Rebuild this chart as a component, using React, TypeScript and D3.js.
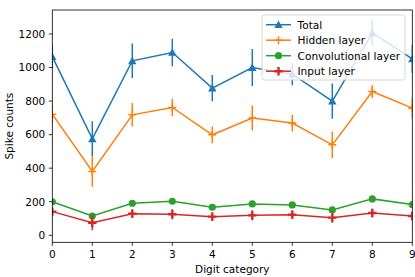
import React from 'react';
import * as d3 from 'd3';

const digits = [0, 1, 2, 3, 4, 5, 6, 7, 8, 9];

const totalMean = [1065, 575, 1040, 1090, 877, 1000, 960, 800, 1206, 1051];
const totalErr = [70, 105, 103, 82, 78, 110, 65, 105, 75, 83];
const hiddenMean = [722, 380, 718, 762, 599, 699, 669, 539, 857, 758];
const hiddenErr = [55, 90, 70, 52, 50, 75, 50, 78, 38, 60];
const convMean = [200, 115, 191, 203, 167, 187, 181, 151, 217, 183];
const convErr = [14, 14, 14, 14, 14, 14, 14, 14, 14, 14];
const inputMean = [141, 75, 129, 125, 111, 119, 123, 105, 133, 115];
const inputErr = [25, 45, 25, 30, 25, 30, 25, 30, 25, 25];

const yTicks = [0, 200, 400, 600, 800, 1000, 1200];

type Marker = 'triangle' | 'plus' | 'circle' | 'plusBold';

const series = [
  { name: 'Total', mean: totalMean, err: totalErr, color: '#1f77b4', marker: 'triangle' as Marker },
  { name: 'Hidden layer', mean: hiddenMean, err: hiddenErr, color: '#ff7f0e', marker: 'plus' as Marker },
  { name: 'Convolutional layer', mean: convMean, err: convErr, color: '#2ca02c', marker: 'circle' as Marker },
  { name: 'Input layer', mean: inputMean, err: inputErr, color: '#d62728', marker: 'plusBold' as Marker },
];

const W = 415;
const H = 277;
const left = 52.3;
const right = 412.3;
const top = 10;
const bottom = 242.3;
const font = 'DejaVu Sans, sans-serif';

const drawMarker = (m: Marker, cx: number, cy: number, color: string, key: string) => {
  if (m === 'triangle') {
    const s = 4.2;
    return <path key={key} d={`M${cx},${cy - s}L${cx + s},${cy + s * 0.8}L${cx - s},${cy + s * 0.8}Z`} fill={color} />;
  }
  if (m === 'circle') {
    return <circle key={key} cx={cx} cy={cy} r={3.6} fill={color} />;
  }
  const s = m === 'plus' ? 4 : 4.2;
  const w = m === 'plus' ? 1.5 : 2.4;
  return (
    <path key={key} d={`M${cx - s},${cy}H${cx + s}M${cx},${cy - s}V${cy + s}`} stroke={color} strokeWidth={w} fill="none" />
  );
};

export default function App() {
  const x = d3.scaleLinear().domain([0, 9]).range([left, right]);
  const y = d3.scaleLinear().domain([-41.8, 1343]).range([bottom, top]);
  const line = d3.line<number>().x((_, i) => x(digits[i])).y(d => y(d));

  const legX = 262;
  const legY = 15;
  const legW = 143;
  const legH = 65;

  return (
    <svg width={W} height={H} style={{ position: 'absolute', left: 0, top: 0, background: '#fff' }} fontFamily={font}>
      <defs>
        <clipPath id="plot">
          <rect x={left} y={top} width={right - left} height={bottom - top} />
        </clipPath>
      </defs>
      <g clipPath="url(#plot)">
        {series.map(s => (
          <g key={s.name}>
            {s.mean.map((v, i) => (
              <line key={'e' + i} x1={x(digits[i])} x2={x(digits[i])} y1={y(v - s.err[i])} y2={y(v + s.err[i])} stroke={s.color} strokeWidth={1.5} />
            ))}
            <path d={line(s.mean) || ''} fill="none" stroke={s.color} strokeWidth={1.5} />
            {s.mean.map((v, i) => drawMarker(s.marker, x(digits[i]), y(v), s.color, 'm' + i))}
          </g>
        ))}
      </g>
      {/* spines */}
      <rect x={left} y={top} width={right - left} height={bottom - top} fill="none" stroke="#000" strokeWidth={0.8} />
      {/* x ticks */}
      {digits.map(d => (
        <g key={'x' + d}>
          <line x1={x(d)} x2={x(d)} y1={bottom} y2={bottom + 3.5} stroke="#000" strokeWidth={0.8} />
          <text x={x(d)} y={bottom + 15.5} fontSize={10.5} textAnchor="middle">{d}</text>
        </g>
      ))}
      {yTicks.map(t => (
        <g key={'y' + t}>
          <line x1={left - 3.5} x2={left} y1={y(t)} y2={y(t)} stroke="#000" strokeWidth={0.8} />
          <text x={left - 7} y={y(t) + 3.8} fontSize={10.5} textAnchor="end">{t}</text>
        </g>
      ))}
      <text x={(left + right) / 2} y={273} fontSize={10.5} textAnchor="middle">Digit category</text>
      <text transform={`translate(12.5,${(top + bottom) / 2}) rotate(-90)`} fontSize={10.5} textAnchor="middle">Spike counts</text>
      {/* legend */}
      <rect x={legX} y={legY} width={legW} height={legH} rx={2.5} fill="#fff" fillOpacity={0.8} stroke="#cccccc" strokeWidth={0.8} />
      {series.map((s, i) => {
        const cy = 24.7 + i * 15.5;
        return (
          <g key={'l' + s.name}>
            <line x1={266} x2={291} y1={cy} y2={cy} stroke={s.color} strokeWidth={1.5} />
            {drawMarker(s.marker, 278.5, cy, s.color, 'lm' + i)}
            <text x={297.5} y={cy + 3.8} fontSize={10.6}>{s.name}</text>
          </g>
        );
      })}
    </svg>
  );
}
